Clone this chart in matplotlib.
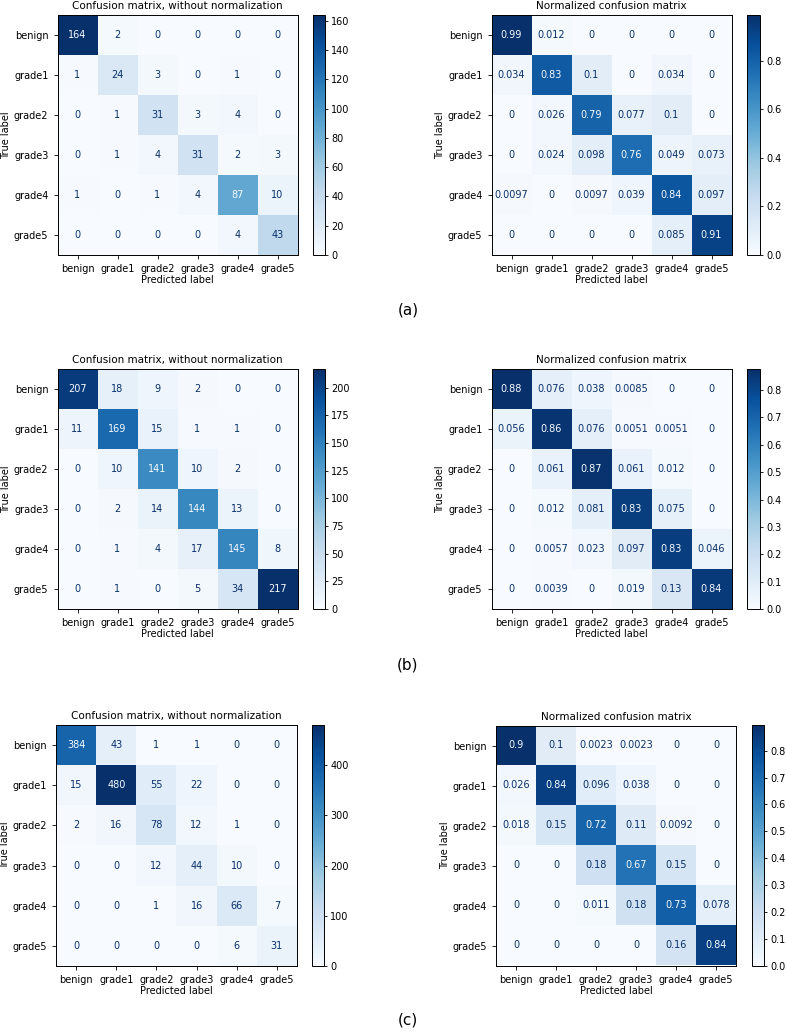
"""Confusion matrices (raw counts + row-normalized) for three experiments (a)-(c)."""
import matplotlib
matplotlib.use("Agg")
import matplotlib.pyplot as plt
import numpy as np

CLASSES = ["benign", "grade1", "grade2", "grade3", "grade4", "grade5"]

counts_a = [
    [164, 2, 0, 0, 0, 0],
    [1, 24, 3, 0, 1, 0],
    [0, 1, 31, 3, 4, 0],
    [0, 1, 4, 31, 2, 3],
    [1, 0, 1, 4, 87, 10],
    [0, 0, 0, 0, 4, 43],
]
counts_b = [
    [207, 18, 9, 2, 0, 0],
    [11, 169, 15, 1, 1, 0],
    [0, 10, 141, 10, 2, 0],
    [0, 2, 14, 144, 13, 0],
    [0, 1, 4, 17, 145, 8],
    [0, 1, 0, 5, 34, 217],
]
counts_c = [
    [384, 43, 1, 1, 0, 0],
    [15, 480, 55, 22, 0, 0],
    [2, 16, 78, 12, 1, 0],
    [0, 0, 12, 44, 10, 0],
    [0, 0, 1, 16, 66, 7],
    [0, 0, 0, 0, 6, 31],
]
PANEL_LABELS = ["(a)", "(b)", "(c)"]

W, H = 786, 1036
FS = 7


def px_axes(fig, x0, x1, y0, y1):
    # pixel box (top-left origin) -> figure fraction axes
    return fig.add_axes([x0 / W, 1 - y1 / H, (x1 - x0) / W, (y1 - y0) / H])


def draw_cm(fig, box, cbox, cm, title, fmt):
    ax = px_axes(fig, *box)
    cax = px_axes(fig, *cbox)
    cmap = plt.get_cmap("Blues")
    im = ax.imshow(cm, cmap=cmap, interpolation="nearest")
    thresh = (cm.max() + cm.min()) / 2.0
    for i in range(cm.shape[0]):
        for j in range(cm.shape[1]):
            col = cmap(1.0) if cm[i, j] < thresh else cmap(0.0)
            ax.text(j, i, format(cm[i, j], fmt), ha="center", va="center",
                    color=col, fontsize=FS)
    n = len(CLASSES)
    ax.set_xticks(range(n), CLASSES)
    ax.set_yticks(range(n), CLASSES)
    ax.tick_params(labelsize=FS, length=3, width=0.6)
    ax.set_xlabel("Predicted label", fontsize=FS, labelpad=1)
    ax.set_ylabel("True label", fontsize=FS, labelpad=2)
    ax.set_title(title, fontsize=FS + 0.5, pad=4)
    for s in ax.spines.values():
        s.set_linewidth(0.7)
    cb = fig.colorbar(im, cax=cax)
    cb.ax.tick_params(labelsize=FS, length=2.5, width=0.6, pad=2)
    cb.outline.set_linewidth(0.7)


fig = plt.figure(figsize=(W / 100, H / 100), dpi=100)

rows = [
    (counts_a, (15, 255), 310),
    (counts_b, (369, 609), 665),
    (counts_c, (725, 966), 1020),
]
left_x = [(57, 298, 313, 325), (57, 298, 313, 325), (56, 297, 312, 324)]
right_x = [(491, 732, 747, 760), (491, 732, 747, 760), (496, 736, 752, 764)]

for k, (counts, (y0, y1), ly) in enumerate(rows):
    cm = np.array(counts)
    norm = cm / cm.sum(axis=1, keepdims=True)
    lx0, lx1, lc0, lc1 = left_x[k]
    rx0, rx1, rc0, rc1 = right_x[k]
    draw_cm(fig, (lx0, lx1, y0, y1), (lc0, lc1, y0, y1), cm,
            "Confusion matrix, without normalization", "d")
    draw_cm(fig, (rx0, rx1, y0, y1), (rc0, rc1, y0, y1), norm,
            "Normalized confusion matrix", ".2g")
    fig.text(408 / W, 1 - ly / H, PANEL_LABELS[k], ha="center", va="center",
             fontsize=11)

fig.savefig("out.png", dpi=100)
